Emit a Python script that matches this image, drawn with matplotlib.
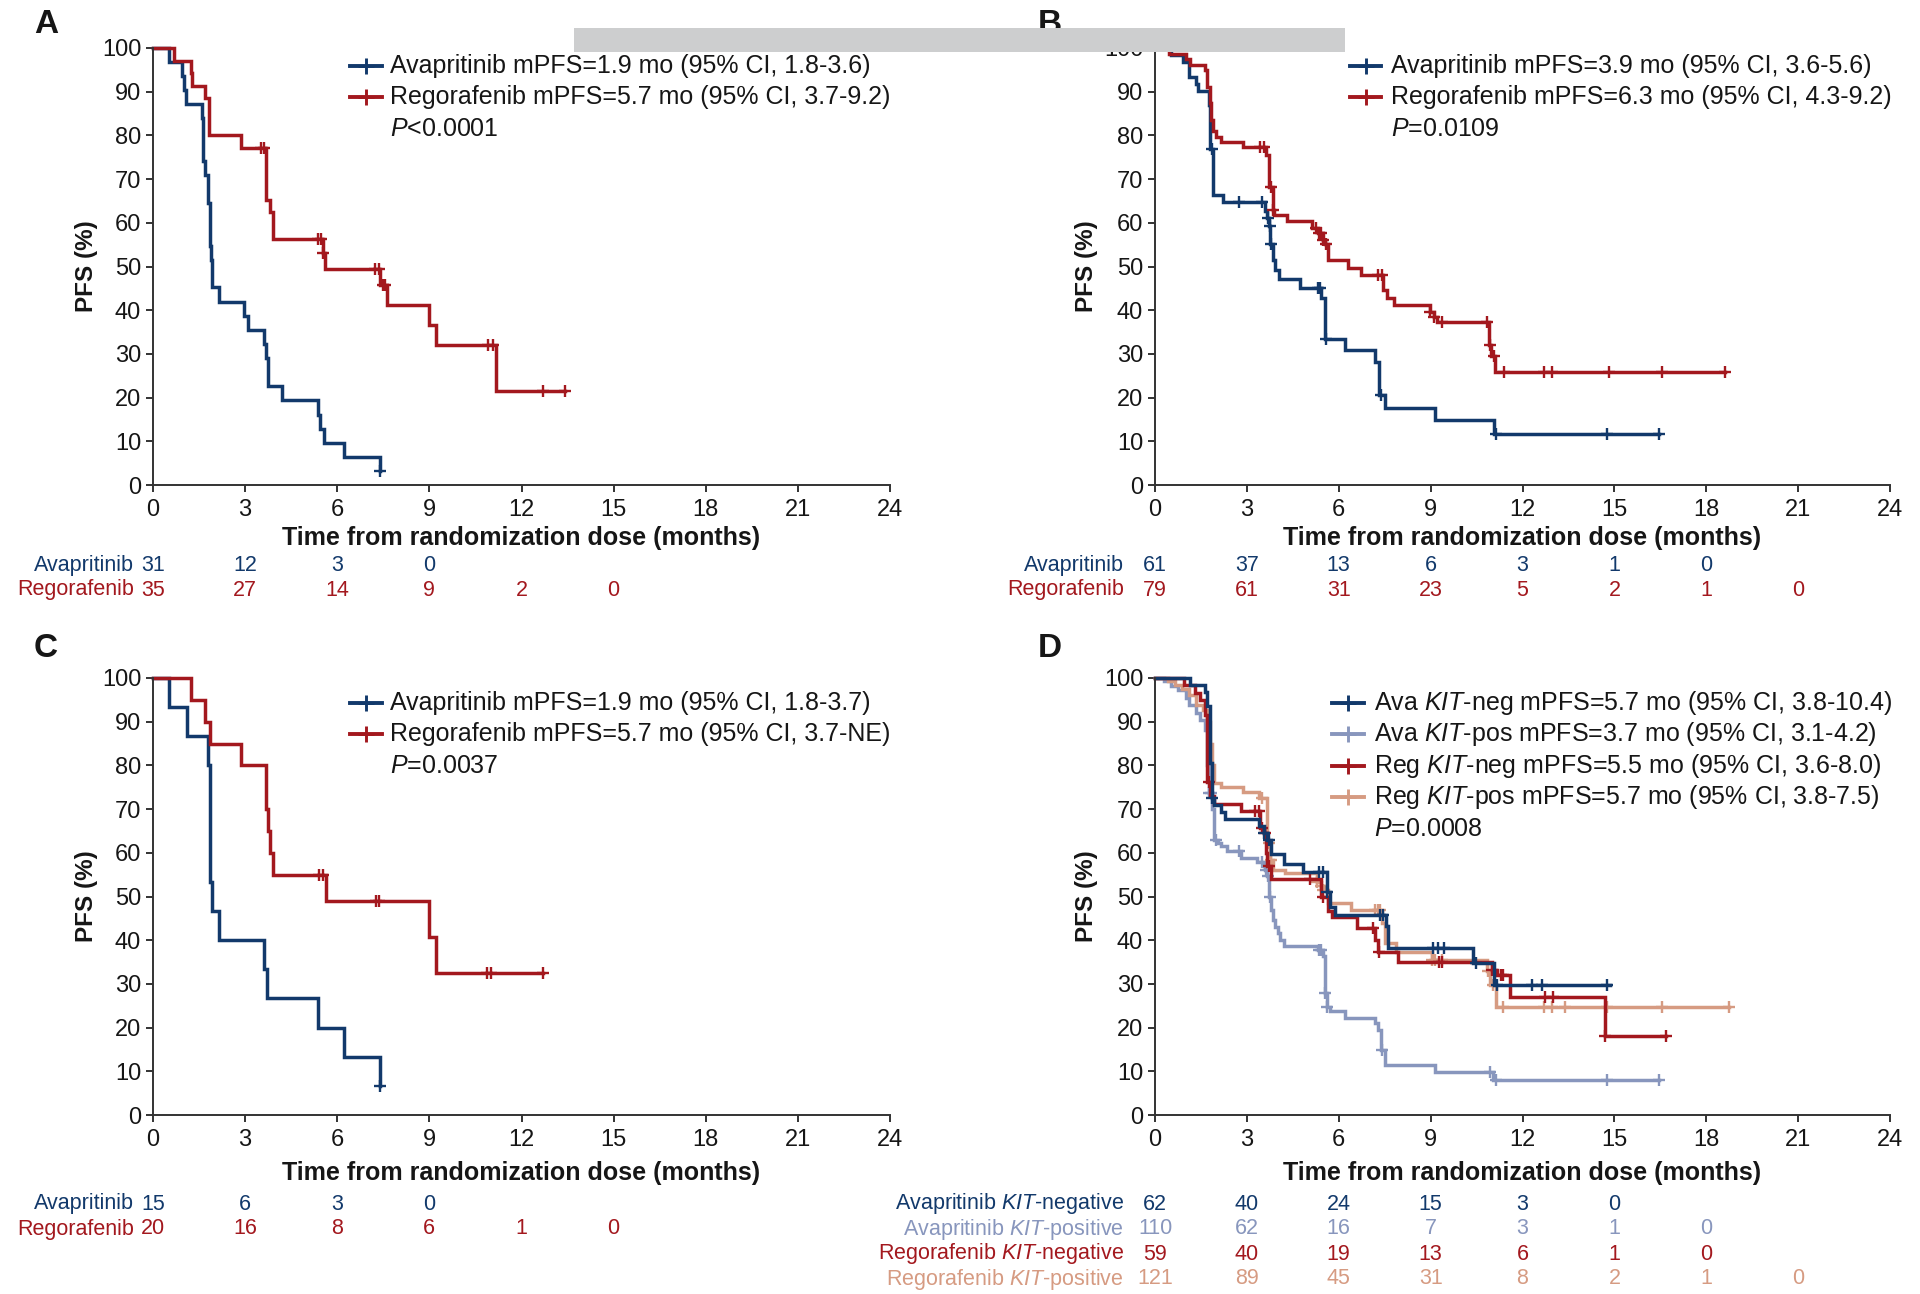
import matplotlib
matplotlib.use('Agg')
import matplotlib.pyplot as plt
from matplotlib.lines import Line2D
from matplotlib.patches import Rectangle
import matplotlib.transforms as mtransforms

plt.rcParams['font.family'] = ['Liberation Sans', 'DejaVu Sans']
plt.rcParams['mathtext.fontset'] = 'custom'
plt.rcParams['mathtext.rm'] = 'Liberation Sans'
plt.rcParams['mathtext.it'] = 'Liberation Sans:italic'
plt.rcParams['mathtext.bf'] = 'Liberation Sans:bold'

# ---------------- data ----------------
x_ticks = [0, 3, 6, 9, 12, 15, 18, 21, 24]
y_ticks = [0, 10, 20, 30, 40, 50, 60, 70, 80, 90, 100]

# Panel A
A_ava_t = [0, 0.52, 0.93, 1.01, 1.09, 1.59, 1.63, 1.70, 1.78, 1.85, 1.88, 1.93, 2.15, 2.97, 3.10,
           3.62, 3.67, 3.73, 3.76, 4.20, 5.36, 5.45, 5.58, 6.23, 7.39]
A_ava_s = [100, 96.8, 93.5, 90.3, 87.1, 83.9, 74.2, 71.0, 64.5, 54.8, 51.6, 45.2, 41.9, 38.7, 35.5,
           32.3, 29.0, 25.8, 22.6, 19.4, 16.1, 12.9, 9.7, 6.5, 3.2]
A_ava_ct = [7.39]
A_ava_cs = [3.2]
A_reg_t = [0, 0.68, 1.23, 1.28, 1.70, 1.83, 2.86, 3.67, 3.80, 3.92, 5.52, 5.61, 7.40, 7.61, 9.00,
           9.20, 11.17, 13.43]
A_reg_s = [100, 97.1, 94.3, 91.4, 88.6, 80.0, 77.1, 65.3, 62.4, 56.3, 53.1, 49.5, 45.8, 41.1, 36.5,
           32.1, 21.4, 21.4]
A_reg_ct = [3.51, 3.62, 5.36, 5.47, 5.55, 7.24, 7.37, 7.48, 7.56, 10.91, 11.07, 12.70, 13.43]
A_reg_cs = [77.1, 77.1, 56.3, 56.3, 53.1, 49.5, 49.5, 45.8, 45.8, 32.1, 32.1, 21.4, 21.4]

# Panel B
B_ava_t = [0, 0.53, 0.90, 1.10, 1.35, 1.40, 1.75, 1.80, 1.91, 2.22, 3.58, 3.66, 3.72, 3.77, 3.85,
           3.93, 4.05, 4.72, 5.42, 5.56, 6.21, 7.19, 7.32, 7.52, 9.15, 11.07, 16.46]
B_ava_s = [100, 98.4, 96.7, 93.4, 91.8, 90.2, 86.9, 77.0, 66.4, 64.7, 62.8, 61.1, 59.2, 55.2, 51.5,
           49.2, 47.1, 45.0, 42.7, 33.4, 30.8, 28.1, 20.5, 17.7, 14.9, 11.7, 11.7]
B_ava_ct = [1.86, 2.74, 3.50, 3.68, 3.74, 3.79, 5.31, 5.40, 5.59, 7.38, 11.15, 14.77, 16.46]
B_ava_cs = [77.0, 64.7, 64.7, 61.1, 59.2, 55.2, 45.0, 45.0, 33.4, 20.5, 11.7, 11.7, 11.7]
B_reg_t = [0, 0.47, 1.00, 1.15, 1.64, 1.70, 1.78, 1.83, 1.90, 2.00, 2.16, 2.86, 3.62, 3.72, 3.84,
           3.90, 4.31, 5.13, 5.32, 5.48, 5.55, 5.65, 6.29, 6.72, 7.46, 7.57, 7.80, 8.97, 9.10, 9.20,
           10.90, 10.98, 11.10, 18.60]
B_reg_s = [100, 98.7, 97.5, 96.2, 94.9, 91.1, 87.3, 83.5, 81.0, 79.7, 78.6, 77.3, 75.6, 68.3, 63.0,
           61.7, 60.3, 58.8, 57.6, 56.1, 55.2, 51.5, 49.6, 48.1, 44.7, 42.7, 41.1, 39.7, 38.5, 37.2,
           32.1, 29.5, 25.8, 25.8]
B_reg_ct = [3.44, 3.56, 3.79, 3.85, 5.25, 5.35, 5.42, 5.50, 5.58, 7.28, 7.40, 8.97, 9.10, 9.38,
            10.83, 10.95, 11.07, 11.38, 12.70, 12.95, 14.83, 16.54, 18.60]
B_reg_cs = [77.3, 77.3, 68.3, 63.0, 58.8, 57.6, 57.6, 56.1, 55.2, 48.1, 48.1, 39.7, 38.5, 37.2,
            37.2, 32.1, 29.5, 25.8, 25.8, 25.8, 25.8, 25.8, 25.8]

# Panel C
C_ava_t = [0, 0.52, 1.12, 1.80, 1.84, 1.87, 1.93, 2.15, 3.62, 3.70, 5.36, 6.23, 7.39]
C_ava_s = [100, 93.3, 86.7, 80.0, 60.0, 53.3, 46.7, 40.0, 33.3, 26.7, 20.0, 13.3, 6.7]
C_ava_ct = [7.39]
C_ava_cs = [6.7]
C_reg_t = [0, 1.23, 1.70, 1.85, 2.86, 3.67, 3.73, 3.80, 3.92, 5.63, 9.00, 9.20, 12.70]
C_reg_s = [100, 95, 90, 85, 80, 70, 65, 60, 55, 48.9, 40.7, 32.6, 32.6]
C_reg_ct = [5.39, 5.52, 7.26, 7.37, 10.87, 11.01, 12.70]
C_reg_cs = [55, 55, 48.9, 48.9, 32.6, 32.6, 32.6]

# Panel D
D_avaneg_t = [0, 1.14, 1.64, 1.70, 1.78, 1.85, 1.93, 2.16, 2.30, 3.38, 3.55, 3.65, 3.80, 4.20, 4.84,
              5.60, 5.70, 5.89, 7.55, 7.61, 10.37, 11.07, 14.85]
D_avaneg_s = [100, 98.4, 96.8, 93.5, 80.6, 72.6, 71.0, 69.4, 67.7, 66.1, 64.5, 62.9, 59.7, 57.5, 55.5,
              51.0, 47.5, 45.8, 43.3, 38.2, 34.7, 29.8, 29.8]
D_avaneg_ct = [1.87, 3.56, 3.72, 5.36, 5.50, 5.62, 7.34, 7.46, 9.09, 9.24, 9.43, 10.48, 11.18, 12.31,
               12.64, 14.77]
D_avaneg_cs = [72.6, 64.5, 62.9, 55.5, 55.5, 51.0, 45.8, 45.8, 38.2, 38.2, 38.2, 34.7, 29.8, 29.8,
               29.8, 29.8]
D_avapos_t = [0, 0.30, 0.53, 0.76, 1.00, 1.11, 1.35, 1.46, 1.64, 1.70, 1.75, 1.85, 1.93, 2.05, 2.16,
              2.34, 2.80, 3.33, 3.55, 3.60, 3.66, 3.72, 3.78, 3.85, 3.92, 4.00, 4.08, 4.20, 5.31, 5.48,
              5.54, 5.62, 5.71, 6.21, 7.17, 7.28, 7.38, 7.52, 9.15, 11.05, 16.46]
D_avapos_s = [100, 99.2, 98.1, 97.3, 95.4, 93.9, 92.0, 90.5, 88.2, 80.0, 73.6, 70.0, 63.0, 62.2, 61.5,
              60.3, 58.8, 58.0, 56.9, 56.1, 54.6, 50.0, 46.9, 44.7, 43.1, 41.6, 40.1, 38.7, 37.8, 36.3,
              27.9, 24.8, 23.9, 22.1, 21.0, 19.5, 14.9, 11.5, 9.9, 7.9, 7.9]
D_avapos_ct = [1.75, 1.82, 1.98, 2.74, 3.50, 3.62, 3.70, 3.76, 5.36, 5.42, 5.56, 5.63, 7.42, 10.95,
               11.12, 14.77, 16.46]
D_avapos_cs = [73.6, 73.6, 63.0, 60.3, 58.0, 56.1, 54.6, 50.0, 37.8, 37.8, 27.9, 24.8, 14.9, 9.9,
               7.9, 7.9, 7.9]
D_regneg_t = [0, 0.94, 1.29, 1.46, 1.64, 1.70, 1.80, 1.93, 2.80, 3.44, 3.56, 3.62, 3.67, 3.79, 5.42,
              5.65, 5.77, 6.58, 7.17, 7.28, 7.92, 11.01, 11.18, 11.59, 14.68, 16.68]
D_regneg_s = [100, 98.3, 96.6, 94.9, 91.5, 76.3, 72.9, 71.2, 69.5, 65.6, 64.5, 60.0, 56.9, 54.0, 50.0,
              46.6, 45.3, 42.7, 40.1, 37.4, 35.1, 33.2, 32.1, 27.1, 18.1, 18.1]
D_regneg_ct = [1.75, 3.27, 3.38, 3.50, 3.60, 3.72, 5.07, 5.48, 7.11, 7.31, 9.26, 9.38, 11.01, 11.30,
               11.36, 12.73, 12.99, 14.68, 16.68]
D_regneg_cs = [76.3, 69.5, 69.5, 65.6, 64.5, 56.9, 54.0, 50.0, 42.7, 37.4, 35.1, 35.1, 33.2, 32.1,
               32.1, 27.1, 27.1, 18.1, 18.1]
D_regpos_t = [0, 0.42, 0.65, 0.88, 1.11, 1.35, 1.58, 1.70, 1.78, 1.85, 1.93, 2.16, 2.86, 3.38, 3.67,
              3.76, 3.85, 4.26, 5.30, 5.42, 5.54, 5.65, 6.41, 7.40, 7.52, 7.86, 9.03, 10.83, 10.95,
              11.12, 18.75]
D_regpos_s = [100, 99.2, 98.3, 97.5, 96.2, 93.9, 92.7, 90.0, 85.0, 80.0, 76.0, 75.0, 74.0, 72.5, 62.2,
              58.4, 56.1, 55.3, 53.4, 52.3, 51.5, 48.5, 46.9, 43.9, 39.3, 37.4, 35.5, 33.0, 29.8,
              24.7, 24.7]
D_regpos_ct = [3.50, 3.73, 3.79, 5.30, 5.42, 5.50, 7.17, 7.28, 7.36, 9.03, 9.15, 9.38, 10.88, 11.05,
               11.36, 12.70, 12.95, 13.40, 14.77, 16.54, 18.75]
D_regpos_cs = [72.5, 62.2, 58.4, 53.4, 52.3, 51.5, 46.9, 46.9, 46.9, 35.5, 35.5, 35.5, 33.0, 29.8,
               24.7, 24.7, 24.7, 24.7, 24.7, 24.7, 24.7]

# Numbers at risk (at 0, 3, 6, ... months)
A_risk_ava = [31, 12, 3, 0]
A_risk_reg = [35, 27, 14, 9, 2, 0]
B_risk_ava = [61, 37, 13, 6, 3, 1, 0]
B_risk_reg = [79, 61, 31, 23, 5, 2, 1, 0]
C_risk_ava = [15, 6, 3, 0]
C_risk_reg = [20, 16, 8, 6, 1, 0]
D_risk_avaneg = [62, 40, 24, 15, 3, 0]
D_risk_avapos = [110, 62, 16, 7, 3, 1, 0]
D_risk_regneg = [59, 40, 19, 13, 6, 1, 0]
D_risk_regpos = [121, 89, 45, 31, 8, 2, 1, 0]

# Labels
A_labels = ["Avapritinib mPFS=1.9 mo (95% CI, 1.8-3.6)", "Regorafenib mPFS=5.7 mo (95% CI, 3.7-9.2)"]
B_labels = ["Avapritinib mPFS=3.9 mo (95% CI, 3.6-5.6)", "Regorafenib mPFS=6.3 mo (95% CI, 4.3-9.2)"]
C_labels = ["Avapritinib mPFS=1.9 mo (95% CI, 1.8-3.7)", "Regorafenib mPFS=5.7 mo (95% CI, 3.7-NE)"]
D_labels = [r"Ava $\mathit{KIT}$-neg mPFS=5.7 mo (95% CI, 3.8-10.4)",
            r"Ava $\mathit{KIT}$-pos mPFS=3.7 mo (95% CI, 3.1-4.2)",
            r"Reg $\mathit{KIT}$-neg mPFS=5.5 mo (95% CI, 3.6-8.0)",
            r"Reg $\mathit{KIT}$-pos mPFS=5.7 mo (95% CI, 3.8-7.5)"]
A_p = r"$\mathit{P}$<0.0001"
B_p = r"$\mathit{P}$=0.0109"
C_p = r"$\mathit{P}$=0.0037"
D_p = r"$\mathit{P}$=0.0008"
AC_risk_names = ["Avapritinib", "Regorafenib"]
D_risk_names = [r"Avapritinib $\mathit{KIT}$-negative", r"Avapritinib $\mathit{KIT}$-positive",
                r"Regorafenib $\mathit{KIT}$-negative", r"Regorafenib $\mathit{KIT}$-positive"]

# ---------------- style ----------------
DARK_BLUE = '#12396b'
RED = '#a3181e'
LIGHT_BLUE = '#8896bd'
SALMON = '#d69b82'
AXIS_COL = '#333333'
TEXT_COL = '#161616'

W, H = 1920, 1294
fig = plt.figure(figsize=(W / 100, H / 100), dpi=100)
fig.patch.set_facecolor('white')

LW = 2.5
MS = 9
MEW = 1.7


def fx(px):
    return px / W


def fy(py):
    return 1 - py / H


def make_axes(left, right, top, bottom):
    ax = fig.add_axes([fx(left), fy(bottom), fx(right) - fx(left), fy(top) - fy(bottom)])
    ax.set_xlim(0, 24)
    ax.set_ylim(0, 100)
    ax.set_xticks(x_ticks)
    ax.set_yticks(y_ticks)
    for side in ['top', 'right']:
        ax.spines[side].set_visible(False)
    for side in ['left', 'bottom']:
        ax.spines[side].set_linewidth(1.4)
        ax.spines[side].set_color(AXIS_COL)
    ax.tick_params(direction='out', length=5, width=1.4, color=AXIS_COL,
                   labelsize=17, labelcolor=TEXT_COL, pad=3.5)
    ax.tick_params(axis='x', pad=5)
    return ax


def draw_curve(ax, t, s, ct, cs, color):
    ax.step(t, s, where='post', color=color, lw=LW, clip_on=False, solid_joinstyle='miter')
    ax.plot(ct, cs, linestyle='none', marker='+', ms=MS, mew=MEW, color=color, clip_on=False)


def draw_legend(x1, x2, xt, ys, labels, colors, ptxt, py):
    for y, lab, col in zip(ys, labels, colors):
        fig.add_artist(Line2D([fx(x1), fx(x2)], [fy(y), fy(y)], color=col, lw=LW + 0.3))
        fig.add_artist(Line2D([fx((x1 + x2) / 2)], [fy(y)], marker='+', ms=MS + 2, mew=MEW + 0.4,
                              color=col, linestyle='none'))
        fig.text(fx(xt), fy(y), lab, fontsize=18, color=TEXT_COL, ha='left', va='center')
    fig.text(fx(xt), fy(py), ptxt, fontsize=18, color=TEXT_COL, ha='left', va='center')


def draw_risk(ax, label_right, ys, names, rows, colors):
    trans = mtransforms.blended_transform_factory(ax.transData, fig.transFigure)
    for y, name, row, col in zip(ys, names, rows, colors):
        fig.text(fx(label_right), fy(y), name, fontsize=15.5, color=col, ha='right', va='center')
        for i, n in enumerate(row):
            ax.text(x_ticks[i], fy(y), str(n), transform=trans, fontsize=15.5, color=col,
                    ha='center', va='center', clip_on=False)


def axis_labels(ax, left, right, top, bottom, xlab_y, ylab_x):
    fig.text(fx((left + right) / 2), fy(xlab_y), "Time from randomization dose (months)",
             fontsize=18, fontweight='bold', color=TEXT_COL, ha='center', va='center')
    fig.text(fx(ylab_x), fy((top + bottom) / 2), "PFS (%)", fontsize=17.5, fontweight='bold',
             color=TEXT_COL, ha='center', va='center', rotation=90)


# ---------------- Panel A ----------------
axA = make_axes(153, 890, 48, 485)
draw_curve(axA, A_ava_t, A_ava_s, A_ava_ct, A_ava_cs, DARK_BLUE)
draw_curve(axA, A_reg_t, A_reg_s, A_reg_ct, A_reg_cs, RED)
axis_labels(axA, 153, 890, 48, 485, 538, 86)
draw_legend(350, 382, 390, [66, 97], A_labels, [DARK_BLUE, RED], A_p, 129)
draw_risk(axA, 134, [566, 590], AC_risk_names, [A_risk_ava, A_risk_reg], [DARK_BLUE, RED])

# ---------------- Panel B ----------------
axB = make_axes(1155, 1890, 48, 485)
draw_curve(axB, B_ava_t, B_ava_s, B_ava_ct, B_ava_cs, DARK_BLUE)
draw_curve(axB, B_reg_t, B_reg_s, B_reg_ct, B_reg_cs, RED)
axis_labels(axB, 1155, 1890, 48, 485, 538, 1087)
draw_legend(1350, 1381, 1391, [66, 97], B_labels, [DARK_BLUE, RED], B_p, 129)
draw_risk(axB, 1124, [566, 590], AC_risk_names, [B_risk_ava, B_risk_reg], [DARK_BLUE, RED])

# ---------------- Panel C ----------------
axC = make_axes(153, 890, 678, 1115)
draw_curve(axC, C_ava_t, C_ava_s, C_ava_ct, C_ava_cs, DARK_BLUE)
draw_curve(axC, C_reg_t, C_reg_s, C_reg_ct, C_reg_cs, RED)
axis_labels(axC, 153, 890, 678, 1115, 1173, 86)
draw_legend(350, 382, 390, [703, 734], C_labels, [DARK_BLUE, RED], C_p, 766)
draw_risk(axC, 134, [1204, 1229], AC_risk_names, [C_risk_ava, C_risk_reg], [DARK_BLUE, RED])

# ---------------- Panel D ----------------
axD = make_axes(1155, 1890, 678, 1115)
draw_curve(axD, D_avapos_t, D_avapos_s, D_avapos_ct, D_avapos_cs, LIGHT_BLUE)
draw_curve(axD, D_regpos_t, D_regpos_s, D_regpos_ct, D_regpos_cs, SALMON)
draw_curve(axD, D_regneg_t, D_regneg_s, D_regneg_ct, D_regneg_cs, RED)
draw_curve(axD, D_avaneg_t, D_avaneg_s, D_avaneg_ct, D_avaneg_cs, DARK_BLUE)
axis_labels(axD, 1155, 1890, 678, 1115, 1173, 1087)
draw_legend(1332, 1364, 1374, [703, 734, 766, 797], D_labels,
            [DARK_BLUE, LIGHT_BLUE, RED, SALMON], D_p, 829)
draw_risk(axD, 1124, [1204, 1229, 1254, 1279], D_risk_names,
          [D_risk_avaneg, D_risk_avapos, D_risk_regneg, D_risk_regpos],
          [DARK_BLUE, LIGHT_BLUE, RED, SALMON])

# Panel letters
for letter, x, y in [("A", 34, 33), ("B", 1038, 33), ("C", 34, 657), ("D", 1038, 657)]:
    fig.text(fx(x), fy(y), letter, fontsize=24, fontweight='bold', color=TEXT_COL,
             ha='left', va='baseline')

# Grey bar overlay at the top
fig.add_artist(Rectangle((fx(574), fy(52)), fx(1345) - fx(574), fy(28) - fy(52),
                         transform=fig.transFigure, facecolor='#cdcecf', edgecolor='none',
                         zorder=100))

fig.savefig('out.png', dpi=100, facecolor='white')
